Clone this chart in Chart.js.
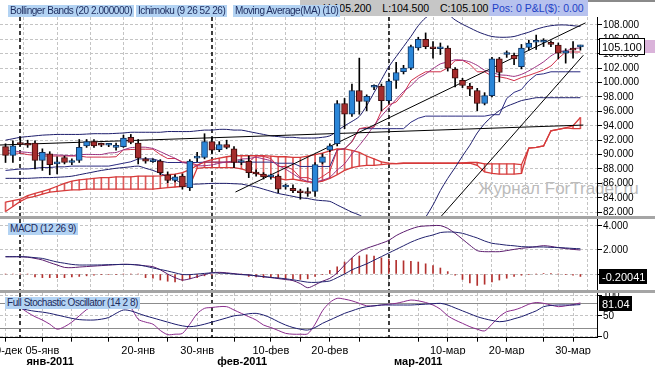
<!DOCTYPE html>
<html>
<head>
<meta charset="utf-8">
<title>Ichimoku / MACD / Stochastic</title>
<script src="https://cdn.jsdelivr.net/npm/chart.js@4.4.1/dist/chart.umd.min.js"></script>
<style>
  body { margin: 0; width: 655px; height: 368px; overflow: hidden; position: relative; background: #fff;
         font-family: "Liberation Sans", Arial, sans-serif; }
  canvas { position: absolute; left: 0; z-index: 1; }
  .tag { position: absolute; z-index: 4; height: 12px; line-height: 12px; padding: 0 2px; font-size: 10px;
         letter-spacing: -0.45px; white-space: nowrap; background: #b3d3f3; color: #1c2a5c; }
  .sep { position: absolute; left: 0; width: 655px; height: 3px; background: #a5a5a5; z-index: 2; }
  #ohlc { position: absolute; z-index: 3; left: 300px; top: 0; width: 166px; height: 16px; line-height: 17px;
          padding-left: 23px; background: #c6c6c6; color: #000; font-size: 10.5px; word-spacing: 8px;
          white-space: nowrap; overflow: hidden; }
  #pos { position: absolute; z-index: 3; left: 489px; top: 0; width: 96px; height: 16px; line-height: 17px;
         padding-left: 3px; background: #b7c2ee; color: #1e3fc6; font-size: 10.5px; white-space: nowrap; }
  #topline { position: absolute; z-index: 3; left: 588px; top: 0; width: 67px; height: 2px; background: #8a8a8a; }
  #wm { position: absolute; z-index: 0; left: 478px; top: 179px; font-size: 17px; color: #bbb; white-space: nowrap; }
</style>
</head>
<body>
<div id="wm">Журнал ForTrader.ru</div>
<canvas id="main" width="655" height="216" style="top:0"></canvas>
<div class="sep" style="top:216px"></div>
<canvas id="macd" width="655" height="71" style="top:219px"></canvas>
<div class="sep" style="top:290px"></div>
<canvas id="stoch" width="655" height="75" style="top:293px"></canvas>

<div class="tag" style="left:8px;top:5px">Bollinger Bands (20 2.000000)</div>
<div class="tag" style="left:136px;top:5px">Ichimoku (9 26 52 26)</div>
<div class="tag" style="left:233px;top:5px">Moving Average(MA) (10)</div>
<div id="ohlc"></div>
<div id="pos">Pos: 0 P&amp;L($): 0.00</div>
<div id="topline"></div>
<div class="tag" style="left:8px;top:223px">MACD (12 26 9)</div>
<div class="tag" style="left:5px;top:297px">Full Stochastic Oscillator (14 2 8)</div>

<script>
// daily bars 30 Dec 2010 - 31 Mar 2011 (Sunday sessions included), x = bar index
const open = [91.1,89.9,91.5,91.4,91.6,89.2,90.1,88.7,89.6,88.9,
  89.2,91.2,91.8,91.4,91.3,91.0,91.1,92.4,91.6,89.4,
  89.0,89.1,87.2,86.4,87.0,85.4,89.5,89.6,91.8,90.7,
  91.4,90.8,88.9,89.05,87.5,87.3,86.9,87.0,85.5,85.3,
  84.96,84.8,84.9,88.9,90.6,91.5,97.1,95.6,98.9,97.4,
  99.35,99.5,97.5,100.3,101.5,102.0,104.8,106.0,104.75,104.7,
  104.8,101.85,100.3,99.5,98.9,97.1,98.2,103.3,103.9,103.8,
  102.2,104.9,105.6,105.6,105.6,105.2,104.1,104.6,104.95];
const high = [91.5,91.9,92.4,92.0,91.9,90.8,90.4,89.7,89.8,89.4,
  92.1,92.1,92.1,91.6,91.5,91.6,92.7,92.8,92.1,89.6,
  89.4,89.3,87.6,87.2,87.3,89.3,90.3,92.9,92.3,91.8,
  92.0,91.1,89.3,89.8,87.9,87.5,87.3,87.2,85.9,85.8,
  85.2,85.4,88.9,90.1,91.5,97.5,97.8,99.8,103.4,98.3,
  99.7,99.8,100.5,102.8,102.4,105.2,106.3,106.9,105.7,105.5,
  105.1,102.1,100.6,99.9,99.2,98.6,103.5,103.5,104.4,104.1,
  105.3,105.9,106.6,106.1,105.8,105.5,104.7,105.7,105.2];
const low = [88.9,88.9,91.3,91.0,88.0,87.8,87.2,87.3,88.7,88.6,
  88.9,91.0,91.0,91.1,91.1,90.6,91.0,91.5,88.7,88.8,
  88.9,87.2,86.1,86.2,85.2,85.0,89.0,89.4,90.2,90.4,
  90.8,88.2,88.6,86.8,87.0,86.6,86.6,84.7,85.2,84.7,
  83.8,84.2,84.2,88.7,90.4,91.2,93.6,95.3,95.6,96.1,
  99.0,96.1,97.2,99.2,101.2,101.8,104.5,104.7,103.4,103.9,
  101.6,99.4,99.3,98.2,96.1,96.9,98.0,100.1,103.5,102.5,
  101.9,104.5,104.6,105.0,105.0,103.3,102.7,103.4,104.5];
const close = [89.9,91.2,91.4,91.3,89.2,90.3,88.6,88.7,88.9,89.1,
  91.0,91.8,91.2,91.3,91.35,91.0,92.3,91.7,89.5,89.1,
  89.2,87.5,86.4,86.9,85.5,89.1,89.6,91.8,90.6,91.4,
  91.0,88.9,89.0,87.5,87.3,86.9,86.95,85.2,85.5,85.0,
  84.7,84.6,88.6,89.7,91.2,97.1,95.6,98.9,97.4,98.1,
  99.4,97.5,100.2,101.4,102.0,105.0,106.0,105.0,104.7,104.75,
  102.0,100.6,99.6,99.1,97.1,98.2,103.3,101.4,104.0,103.3,
  104.8,105.5,105.6,105.65,105.3,104.1,104.4,104.5,105.1];

const bbUpper = [92.0,92.2,92.4,92.5,92.6,92.7,92.75,92.8,92.8,92.8,
  92.8,92.85,92.9,92.9,92.9,92.95,93.0,93.1,93.1,93.1,
  93.1,93.1,93.2,93.2,93.2,93.2,93.3,93.4,93.4,93.5,
  93.5,93.4,93.4,93.2,93.0,92.8,92.6,92.5,92.4,92.4,
  92.3,92.3,92.3,92.4,92.6,93.3,94.0,94.6,95.3,96.8,
  98.6,100.4,102.2,103.6,105.0,106.4,107.9,109.0,109.6,109.8,
  109.5,108.7,108.1,107.6,107.1,106.7,106.4,106.3,106.3,106.4,
  106.7,107.0,107.4,107.7,107.9,108.0,108.0,107.9,107.8];
const bbLower = [86.7,86.7,86.7,86.7,86.75,86.8,86.8,86.85,86.9,87.0,
  87.2,87.4,87.6,87.8,87.95,88.1,88.2,88.3,88.4,88.1,
  87.8,87.4,86.9,86.5,86.0,85.9,85.9,85.95,86.0,86.0,
  86.0,85.95,85.9,85.7,85.5,85.2,84.9,84.6,84.4,84.2,
  84.0,83.9,83.7,83.6,83.5,83.0,82.5,82.0,81.6,81.0,
  80.3,79.6,79.0,78.6,78.5,78.8,79.8,81.3,83.0,85.0,
  86.7,88.2,89.8,91.3,93.0,94.3,95.3,96.1,96.7,97.1,
  97.5,97.7,97.9,97.9,97.9,97.9,97.9,97.9,97.9];
const kijun = [87.8,87.9,88.0,88.0,88.1,88.2,88.2,88.3,88.3,88.4,
  88.4,88.4,88.4,88.4,88.4,88.6,88.8,89.0,89.4,89.4,
  89.4,89.1,88.9,88.9,88.9,88.9,88.9,88.95,88.95,88.95,
  88.95,88.95,88.95,88.95,88.95,88.95,88.95,88.8,88.8,88.8,
  88.35,88.35,88.35,88.35,88.35,90.65,90.8,91.78,93.6,93.6,
  93.6,93.6,93.6,93.6,93.6,94.5,95.05,95.34,95.34,95.34,
  95.34,95.34,95.34,95.34,95.34,95.34,95.54,95.54,97.79,98.64,
  99.04,100.24,101.09,101.22,101.5,101.5,101.5,101.5,101.5];
const tenkan = [90.2,90.2,90.2,90.0,89.9,89.8,89.8,89.8,89.8,89.8,
  89.8,89.65,89.65,89.65,89.65,89.7,90.65,90.7,90.75,90.75,
  90.75,90.0,89.45,89.45,89.0,88.9,88.55,88.95,88.95,88.95,
  88.95,88.95,88.95,88.95,89.85,89.75,89.45,88.35,88.35,87.9,
  86.8,86.8,86.35,86.95,87.65,90.65,90.8,91.78,93.6,93.8,
  93.8,96.05,96.9,97.3,98.5,100.25,100.94,101.5,101.5,101.5,
  102.04,103.04,103.09,102.54,101.5,101.5,100.9,100.8,100.6,100.27,
  100.7,101.0,101.37,101.75,102.3,103.35,104.25,104.25,104.25];
const ma10 = [90.6,90.5,90.4,90.3,90.2,90.1,90.0,89.95,89.9,89.86,
  89.97,90.03,90.01,90.01,90.22,90.29,90.66,90.96,91.02,91.02,
  90.84,90.41,89.93,89.49,88.91,88.72,88.45,88.46,88.57,88.8,
  88.98,89.12,89.38,89.44,89.62,89.4,89.14,88.48,87.97,87.33,
  86.7,86.27,86.23,86.45,86.84,87.86,88.72,90.09,91.28,92.59,
  94.06,95.35,96.51,97.68,98.76,99.55,100.59,101.2,101.93,102.6,
  102.86,103.17,103.11,102.88,102.39,101.71,101.44,101.08,101.01,100.86,
  101.14,101.63,102.23,102.88,103.7,104.29,104.4,104.71,104.82];
const spanTop = [83.4,83.6,83.8,84.3,84.6,84.9,85.2,85.6,86.0,86.3,
  86.5,86.6,86.7,86.8,86.8,86.9,86.9,86.9,87.0,87.0,
  87.0,87.05,87.2,87.3,87.5,87.9,88.5,89.0,89.3,89.5,
  89.7,89.84,89.84,89.84,89.84,89.84,89.8,89.7,89.7,89.6,
  89.6,89.8,90.0,90.2,90.5,90.8,90.8,90.6,90.3,89.8,
  89.4,89.0,88.8,88.75,88.8,88.8,88.8,88.8,88.8,88.8,
  88.8,88.8,88.85,88.9,88.9,88.7,88.7,88.7,88.7,88.7,
  88.6,90.9,91.0,91.2,93.3,93.5,93.7,94.0,95.15];
const spanBottom = [82.1,82.8,83.5,84.0,84.2,84.5,84.8,84.9,85.0,85.1,
  85.1,85.2,85.2,85.2,85.2,85.2,85.2,85.2,85.2,85.2,
  85.2,85.3,85.4,85.5,85.6,85.7,88.1,88.2,88.2,88.2,
  88.2,88.2,88.0,87.7,87.4,87.1,86.9,86.7,86.5,86.6,
  86.4,86.2,86.1,86.3,86.7,87.2,87.8,88.2,88.4,88.5,
  88.5,88.6,88.7,88.75,88.8,88.8,88.8,88.8,88.8,88.8,
  88.8,88.8,88.8,88.8,88.5,87.6,87.4,87.3,87.3,87.3,
  87.4,90.9,91.0,91.2,93.3,93.5,93.7,93.6,93.6];
// hand-drawn trend lines: [x1, y1, x2, y2]
const trendLines = [[-0.75, 91.33, 78.4, 94.1], [31.2, 84.8, 78.7, 108.3], [59, 81.3, 78.4, 103.8]];

const macd = [1.44,1.44,1.44,1.4,1.3,1.17,0.95,0.75,0.55,0.53,
  0.58,0.62,0.66,0.7,0.74,0.78,0.81,0.8,0.75,0.68,
  0.61,0.35,0.0,-0.3,-0.5,-0.4,-0.22,-0.05,0.1,0.14,
  0.1,0.03,-0.03,-0.08,-0.15,-0.22,-0.3,-0.38,-0.46,-0.55,
  -0.8,-1.14,-0.9,-0.6,-0.36,0.1,0.75,1.35,1.85,2.14,
  2.35,2.56,2.8,3.2,3.5,3.75,3.94,4.0,4.03,4.03,
  3.8,3.39,2.9,2.4,1.95,1.86,1.86,1.86,1.95,2.05,
  2.14,2.2,2.28,2.36,2.3,2.2,2.12,2.05,2.0];
const signal = [1.44,1.44,1.44,1.42,1.36,1.3,1.15,1.0,0.9,0.8,
  0.75,0.75,0.75,0.76,0.78,0.79,0.8,0.79,0.75,0.65,
  0.5,0.38,0.25,0.1,-0.04,-0.05,0.0,0.05,0.1,0.08,
  0.05,0.0,-0.05,-0.08,-0.15,-0.22,-0.28,-0.33,-0.4,-0.48,
  -0.58,-0.68,-0.7,-0.65,-0.58,-0.3,0.0,0.35,0.6,0.85,
  1.15,1.45,1.75,2.05,2.35,2.65,2.9,3.1,3.25,3.45,
  3.5,3.48,3.39,3.2,3.0,2.75,2.56,2.48,2.4,2.35,
  2.28,2.26,2.25,2.25,2.22,2.2,2.17,2.13,2.1];
const hist = [0,0,0,0,-0.25,-0.3,-0.3,-0.3,-0.3,-0.25,
  -0.2,-0.15,-0.1,-0.05,-0.04,-0.02,0,0,0,-0.3,
  -0.35,-0.5,-0.6,-0.65,-0.55,-0.4,-0.3,-0.15,-0.1,0.05,
  0.05,0.03,0,-0.2,-0.25,-0.3,-0.3,-0.35,-0.4,-0.4,
  -0.45,-0.4,-0.2,-0.05,0.3,0.6,1.0,1.3,1.5,1.6,
  1.5,1.35,1.25,1.15,1.1,1.05,1.0,0.85,0.7,0.5,
  0.2,-0.1,-0.45,-0.75,-0.95,-0.85,-0.65,-0.5,-0.35,-0.2,
  -0.1,-0.05,0,0.05,0.05,0,-0.05,-0.1,-0.20041];

const stochK = [80,78,70,58,48,40,30,18,24,35,
  50,65,75,80,82,84,82,70,42,35,
  30,15,5,6,8,30,55,68,70,72,
  72,64,56,48,40,28,22,15,8,6,
  6,7,30,62,82,92,90,86,80,74,
  74,76,78,80,84,88,86,82,76,66,
  50,40,32,24,18,14,30,48,60,64,
  70,78,82,80,76,72,74,77,81.04];
const stochD = [76,72,68,64,61,59,56,52,48,44,
  41,40,40,42,46,56,64,62,56,50,
  45,40,35,30,26,24,26,30,35,40,
  45,50,52,55,56,52,45,36,28,22,
  18,16,22,32,40,48,56,62,68,72,
  74,76,76,76,76,76,77,78,79,80,
  76,69,62,55,48,43,39,36,38,43,
  48,55,62,72,75,76,76,76,77];

const priceTicks = [82, 84, 86, 88, 90, 92, 94, 96, 98, 100, 102, 104, 106, 108];
const macdTicks = [0, 2, 4];
const stochTicks = [0, 50, 100];
const stochLevels = [20, 80];
const gridIdx = [0, 5, 9, 14, 18, 22, 26, 31, 36, 40, 44, 48, 56, 60, 64, 68, 73, 77];
const gridLabels = ['30-дек','05-янв','','','20-янв','','30-янв','','10-фев','','20-фев','','','10-мар','','20-мар','','30-мар'];
const monthIdx = [6.05, 32.1, 56];
const monthLabels = ['янв-2011', 'фев-2011', 'мар-2011'];
const monthStarts = [2, 28, 52];

const X_MIN = -0.75, X_MAX = 80.25;
const FONT = '"Liberation Sans", Arial, sans-serif';
Chart.defaults.font.family = FONT;
Chart.defaults.font.size = 10;
Chart.defaults.color = '#000';

const last = close.length - 1;
document.getElementById('ohlc').textContent =
  'H:' + high[last].toFixed(3) + ' L:' + low[last].toFixed(3) + ' C:' + close[last].toFixed(3);

const pts = arr => arr.map((v, i) => ({x: i, y: v}));
const line = (arr, color, width, tension, order) => ({
  type: 'line', data: pts(arr), borderColor: color, borderWidth: width,
  pointRadius: 0, tension: tension, order: order
});

function xAxis(show) {
  return {
    type: 'linear', min: X_MIN, max: X_MAX, offset: false, weight: 0,
    afterBuildTicks: s => { s.ticks = gridIdx.map(v => ({value: v})); },
    ticks: show ? {autoSkip: false, minRotation: 0, maxRotation: 0, padding: 3, font: {size: 11},
                   callback: (v, i) => gridLabels[i]} : {display: false},
    grid: {color: '#c4c4c4', drawTicks: !!show, tickLength: 4, tickColor: '#000', tickBorderDash: []},
    border: {display: !!show, color: '#000', dash: [3, 2]},
    afterFit: s => { s.height = show ? 17 : 0; s.paddingLeft = 0; s.paddingRight = 0; }
  };
}

function yAxis(min, max, tickVals, fmt) {
  return {
    position: 'right', min: min, max: max,
    afterBuildTicks: s => { s.ticks = tickVals.map(v => ({value: v})); },
    ticks: {callback: fmt, padding: 1, font: {size: 10}, color: '#000'},
    grid: {color: '#c4c4c4', tickColor: '#000', tickLength: 5, tickBorderDash: []},
    border: {display: true, color: '#000', dash: [3, 2]},
    afterFit: s => { s.width = 58; s.paddingTop = 0; s.paddingBottom = 0; }
  };
}

const monthLinesPlugin = {
  id: 'monthLines',
  beforeDatasetsDraw(chart) {
    const {ctx, chartArea: a, scales: {x}} = chart;
    ctx.save();
    ctx.strokeStyle = '#000';
    ctx.lineWidth = 1.5;
    ctx.setLineDash([4, 3]);
    monthStarts.forEach(v => {
      const px = Math.round(x.getPixelForValue(v));
      ctx.beginPath();
      ctx.moveTo(px, a.top);
      ctx.lineTo(px, a.bottom);
      ctx.stroke();
    });
    ctx.restore();
  }
};

function valueBox(value, text, light) {
  return {
    id: 'valueBox',
    afterDraw(chart) {
      const {ctx, chartArea} = chart;
      const y = Math.round(chart.scales.y.getPixelForValue(value)) + 0.5;
      const x = chartArea.right + 2.5;
      ctx.save();
      ctx.font = '11px ' + FONT;
      ctx.textBaseline = 'middle';
      const w = Math.round(ctx.measureText(text).width) + 5;
      if (light) {
        ctx.fillStyle = '#dab3da';
        ctx.fillRect(x + w, y - 6.5, chart.width - x - w, 13);
        ctx.fillStyle = '#fff';
        ctx.fillRect(x, y - 8, w, 16);
        ctx.strokeStyle = '#000';
        ctx.lineWidth = 1;
        ctx.strokeRect(x, y - 8, w, 16);
        ctx.fillStyle = '#000';
      } else {
        ctx.fillStyle = '#000';
        ctx.fillRect(x - 0.5, y - 7.5, w, 15);
        ctx.fillStyle = '#fff';
      }
      ctx.fillText(text, x + 2.5, y + 1);
      ctx.restore();
    }
  };
}

const levelsPlugin = {
  id: 'levels',
  beforeDatasetsDraw(chart) {
    const {ctx, chartArea: a, scales: {y}} = chart;
    ctx.save();
    ctx.strokeStyle = '#8c8c8c';
    ctx.lineWidth = 1;
    stochLevels.forEach(v => {
      const py = Math.round(y.getPixelForValue(v)) + 0.5;
      ctx.beginPath();
      ctx.moveTo(a.left, py);
      ctx.lineTo(a.right, py);
      ctx.stroke();
    });
    ctx.restore();
  }
};

const baseOptions = padTop => ({
  responsive: false, animation: false, devicePixelRatio: 1, events: [],
  layout: {padding: {top: padTop, left: 0, right: 0, bottom: 0}},
  plugins: {legend: {display: false}, tooltip: {enabled: false}}
});

// main price panel
const up = close.map((c, i) => c >= open[i]);
new Chart(document.getElementById('main'), {
  type: 'bar',
  data: {
    datasets: [
      {data: spanTop.map((t, i) => ({x: i, y: [spanBottom[i], t]})), backgroundColor: '#dc5a5a',
       barThickness: 1, grouped: false, order: 20},
      line(spanTop, '#d63a3a', 1.3, 0, 19),
      line(spanBottom, '#d63a3a', 1.3, 0, 19),
      line(bbUpper, '#1d1d6b', 1, 0.3, 10),
      line(bbLower, '#1d1d6b', 1, 0.3, 10),
      line(kijun, '#2a2a80', 1, 0, 10),
      line(ma10, '#9b2f7f', 1, 0.2, 9),
      line(tenkan, '#d0304a', 1, 0, 9),
      ...trendLines.map(t => ({type: 'line', data: [{x: t[0], y: t[1]}, {x: t[2], y: t[3]}],
        borderColor: '#000', borderWidth: 1, pointRadius: 0, order: 8})),
      {data: low.map((l, i) => ({x: i, y: [l, high[i]]})), backgroundColor: '#000',
       barThickness: 1, grouped: false, order: 2},
      {data: open.map((o, i) => ({x: i, y: [o, close[i]]})),
       backgroundColor: up.map(u => u ? '#2a86d8' : '#a52c2c'),
       borderColor: up.map(u => u ? '#123460' : '#3c0c0c'),
       borderWidth: 1, borderSkipped: false, barThickness: 6, minBarLength: 2, grouped: false, order: 1}
    ]
  },
  options: Object.assign(baseOptions(17), {
    scales: {x: xAxis(false), y: yAxis(81.47, 109.11, priceTicks, v => v.toFixed(3))}
  }),
  plugins: [monthLinesPlugin, valueBox(close[last], close[last].toFixed(3), true)]
});

// MACD panel
new Chart(document.getElementById('macd'), {
  type: 'bar',
  data: {
    datasets: [
      {data: pts(hist), backgroundColor: '#b3312f', barThickness: 1, grouped: false, order: 5},
      line(macd, '#5c1d6e', 1, 0.3, 2),
      line(signal, '#22226e', 1, 0.3, 1)
    ]
  },
  options: Object.assign(baseOptions(0), {
    scales: {x: xAxis(false), y: yAxis(-1.33, 4.58, macdTicks, v => v.toFixed(3))}
  }),
  plugins: [monthLinesPlugin, valueBox(hist[last], hist[last].toFixed(5), false)]
});

// stochastic panel with date axis
new Chart(document.getElementById('stoch'), {
  type: 'line',
  data: {
    datasets: [
      line(stochK, '#8a2c8c', 1, 0.3, 2),
      line(stochD, '#1c1c6e', 1, 0.3, 1)
    ]
  },
  options: Object.assign(baseOptions(0), {
    scales: {
      x: xAxis(true),
      x2: {
        type: 'linear', position: 'bottom', min: X_MIN, max: X_MAX, offset: false, weight: 1,
        afterBuildTicks: s => { s.ticks = monthIdx.map(v => ({value: v})); },
        ticks: {autoSkip: false, minRotation: 0, maxRotation: 0, padding: 1,
                font: {size: 11, weight: 'bold'}, callback: (v, i) => monthLabels[i]},
        grid: {display: false, drawTicks: false},
        border: {display: false},
        afterFit: s => { s.height = 13.3; s.paddingLeft = 0; s.paddingRight = 0; }
      },
      y: yAxis(-2.4, 104.8, stochTicks, v => String(v))
    }
  }),
  plugins: [monthLinesPlugin, levelsPlugin, valueBox(stochK[last], stochK[last].toFixed(2), false)]
});
</script>
</body>
</html>
